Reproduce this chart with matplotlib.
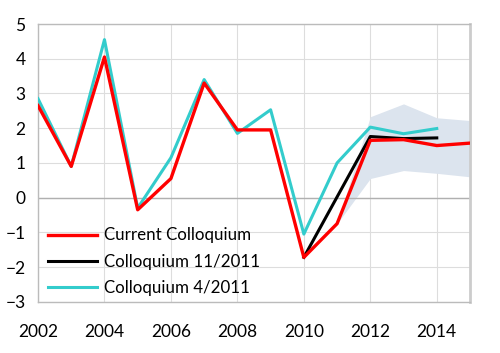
import numpy as np
import matplotlib.pyplot as plt

plt.rcParams['font.family'] = ['Lato', 'DejaVu Sans']

# ----------------------------------------- data -----------------------------------------
years_current = np.arange(2002, 2016)
current = [2.65, 0.9, 4.05, -0.35, 0.55, 3.3, 1.95, 1.95, -1.72, -0.75, 1.65, 1.67, 1.5, 1.57]

years_nov = np.arange(2010, 2015)
coll_nov = [-1.72, 0.02, 1.76, 1.7, 1.72]

years_apr = np.arange(2002, 2015)
coll_apr = [2.85, 0.9, 4.55, -0.3, 1.15, 3.4, 1.85, 2.53, -1.05, 1.0, 2.03, 1.84, 1.99]

band_years = np.arange(2011, 2016)
band_low = [-0.75, 0.55, 0.78, 0.7, 0.6]
band_high = [-0.75, 2.33, 2.7, 2.3, 2.22]

labels = ["Current Colloquium", "Colloquium 11/2011", "Colloquium 4/2011"]

# ----------------------------------------- plot -----------------------------------------
fig = plt.figure(figsize=(5, 3.53), dpi=100)
ax = fig.add_axes([0.076, 0.145, 0.864, 0.787])

ax.fill_between(band_years, band_low, band_high, color='#dce4ee', lw=0, zorder=1)
l_apr, = ax.plot(years_apr, coll_apr, color='#33cccc', lw=2.2, zorder=3)
l_nov, = ax.plot(years_nov, coll_nov, color='black', lw=2.2, zorder=4)
l_cur, = ax.plot(years_current, current, color='#ff0000', lw=2.4, zorder=5)

ax.axhline(0, color='#b0b0b0', lw=1.0, zorder=2)

ax.set_xlim(2002, 2015)
ax.set_ylim(-3, 5)
ax.set_xticks(range(2002, 2015, 2))
ax.set_yticks(range(-3, 6))
ax.grid(True, color='#dddddd', lw=0.8)
ax.set_axisbelow(True)
ax.tick_params(length=0, labelsize=12.5, pad=9)
ax.tick_params(axis='x', pad=16)

for side in ['left', 'top', 'bottom']:
    ax.spines[side].set_color('#bbbbbb')
    ax.spines[side].set_linewidth(1.0)
ax.spines['right'].set_color('#cccccc')
ax.spines['right'].set_linewidth(2.0)

ax.legend([l_cur, l_nov, l_apr], labels, loc='lower left', bbox_to_anchor=(0.0, -0.015),
          frameon=False, fontsize=12.2, handlelength=2.9, handletextpad=0.4,
          labelspacing=0.6, borderaxespad=0.2)

fig.savefig('out.png', dpi=100)
